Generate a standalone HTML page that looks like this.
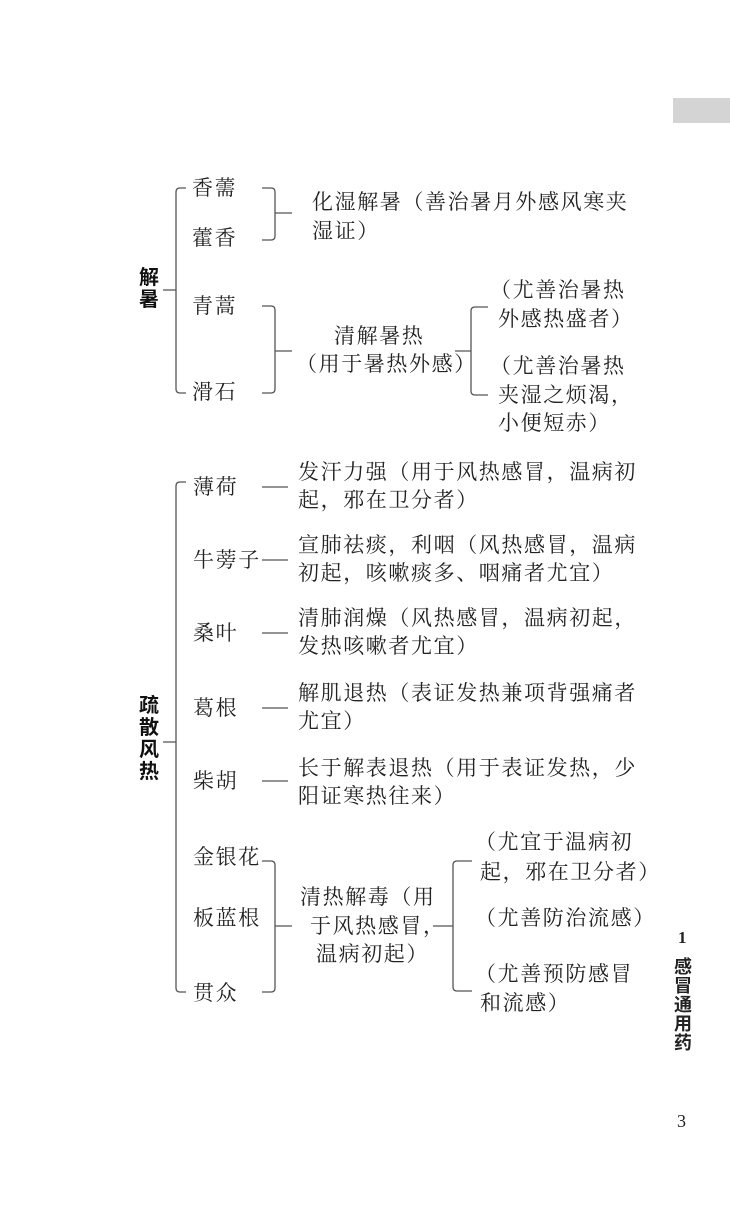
<!DOCTYPE html>
<html><head><meta charset="utf-8"><style>
body{margin:0;width:730px;height:1222px;background:#fff;position:relative;overflow:hidden;font-family:"Liberation Serif","Noto Serif CJK SC",serif;color:#222}
.t{position:absolute;font-size:21px;letter-spacing:1.6px;line-height:24px;white-space:nowrap}
.b{position:absolute;font-family:"Liberation Sans","Noto Sans CJK SC",sans-serif;font-weight:bold;font-size:20px;line-height:22px;width:22px;color:#111}
svg{position:absolute;left:0;top:0}
</style></head><body>
<div style="position:absolute;left:673px;top:98px;width:57px;height:25px;background:#d4d4d4"></div>
<svg width="730" height="1222" fill="none" stroke="#555" stroke-width="1.3">
<path d="M163 290H176M186 188H180Q176 188 176 192V389Q176 393 180 393H186"/>
<path d="M262 188H271Q275 188 275 192V236Q275 240 271 240H262M275 213H292"/>
<path d="M262 306H271Q275 306 275 310V389Q275 393 271 393H262M275 351H292"/>
<path d="M455 351H471M488 307H475Q471 307 471 311V391Q471 395 475 395H488"/>
<path d="M163 742H176M186 482H180Q176 482 176 486V988Q176 992 180 992H186"/>
<path d="M262 487H288M262 560H288M262 633H288M262 708H288M262 781H288"/>
<path d="M262 861H271Q275 861 275 865V988Q275 992 271 992H262M275 926H292"/>
<path d="M433 926H453M472 861H457Q453 861 453 865V987Q453 991 457 991H472"/>
</svg>
<div class="b" style="left:139px;top:267px">解暑</div>
<div class="b" style="left:139px;top:695px">疏散风热</div>
<div class="t" style="left:192px;top:176px">香薷</div>
<div class="t" style="left:192px;top:226px">藿香</div>
<div class="t" style="left:192px;top:294px">青蒿</div>
<div class="t" style="left:192px;top:380px">滑石</div>
<div class="t" style="left:312px;top:190px">化湿解暑（善治暑月外感风寒夹</div>
<div class="t" style="left:312px;top:219px">湿证）</div>
<div class="t" style="left:334px;top:324px">清解暑热</div>
<div class="t" style="left:296px;top:352px">（用于暑热外感）</div>
<div class="t" style="left:490px;top:278px">（尤善治暑热</div>
<div class="t" style="left:498px;top:307px">外感热盛者）</div>
<div class="t" style="left:490px;top:354px">（尤善治暑热</div>
<div class="t" style="left:498px;top:383px">夹湿之烦渴，</div>
<div class="t" style="left:498px;top:411px">小便短赤）</div>

<div class="t" style="left:193px;top:475px">薄荷</div>
<div class="t" style="left:193px;top:548px">牛蒡子</div>
<div class="t" style="left:193px;top:621px">桑叶</div>
<div class="t" style="left:193px;top:696px">葛根</div>
<div class="t" style="left:193px;top:769px">柴胡</div>
<div class="t" style="left:193px;top:845px">金银花</div>
<div class="t" style="left:193px;top:906px">板蓝根</div>
<div class="t" style="left:193px;top:981px">贯众</div>
<div class="t" style="left:298px;top:460px">发汗力强（用于风热感冒，温病初</div>
<div class="t" style="left:298px;top:488px">起，邪在卫分者）</div>
<div class="t" style="left:298px;top:533px">宣肺祛痰，利咽（风热感冒，温病</div>
<div class="t" style="left:298px;top:561px">初起，咳嗽痰多、咽痛者尤宜）</div>
<div class="t" style="left:298px;top:606px">清肺润燥（风热感冒，温病初起，</div>
<div class="t" style="left:298px;top:634px">发热咳嗽者尤宜）</div>
<div class="t" style="left:298px;top:681px">解肌退热（表证发热兼项背强痛者</div>
<div class="t" style="left:298px;top:709px">尤宜）</div>
<div class="t" style="left:298px;top:756px">长于解表退热（用于表证发热，少</div>
<div class="t" style="left:298px;top:784px">阳证寒热往来）</div>
<div class="t" style="left:300px;top:885px">清热解毒（用</div>
<div class="t" style="left:310px;top:914px">于风热感冒，</div>
<div class="t" style="left:316px;top:942px">温病初起）</div>
<div class="t" style="left:475px;top:830px">（尤宜于温病初</div>
<div class="t" style="left:480px;top:860px">起，邪在卫分者）</div>
<div class="t" style="left:475px;top:906px">（尤善防治流感）</div>
<div class="t" style="left:475px;top:962px">（尤善预防感冒</div>
<div class="t" style="left:480px;top:991px">和流感）</div>

<div style="position:absolute;left:678px;top:928px;font-size:17px;font-weight:bold;font-family:'Liberation Serif',serif">1</div>
<div style="position:absolute;left:674px;top:958px;width:20px;font-size:18px;line-height:19px;font-weight:bold;font-family:'Liberation Sans','Noto Sans CJK SC',sans-serif">感冒通用药</div>
<div style="position:absolute;left:677px;top:1111px;font-size:18px;font-family:'Liberation Serif',serif">3</div>
</body></html>
